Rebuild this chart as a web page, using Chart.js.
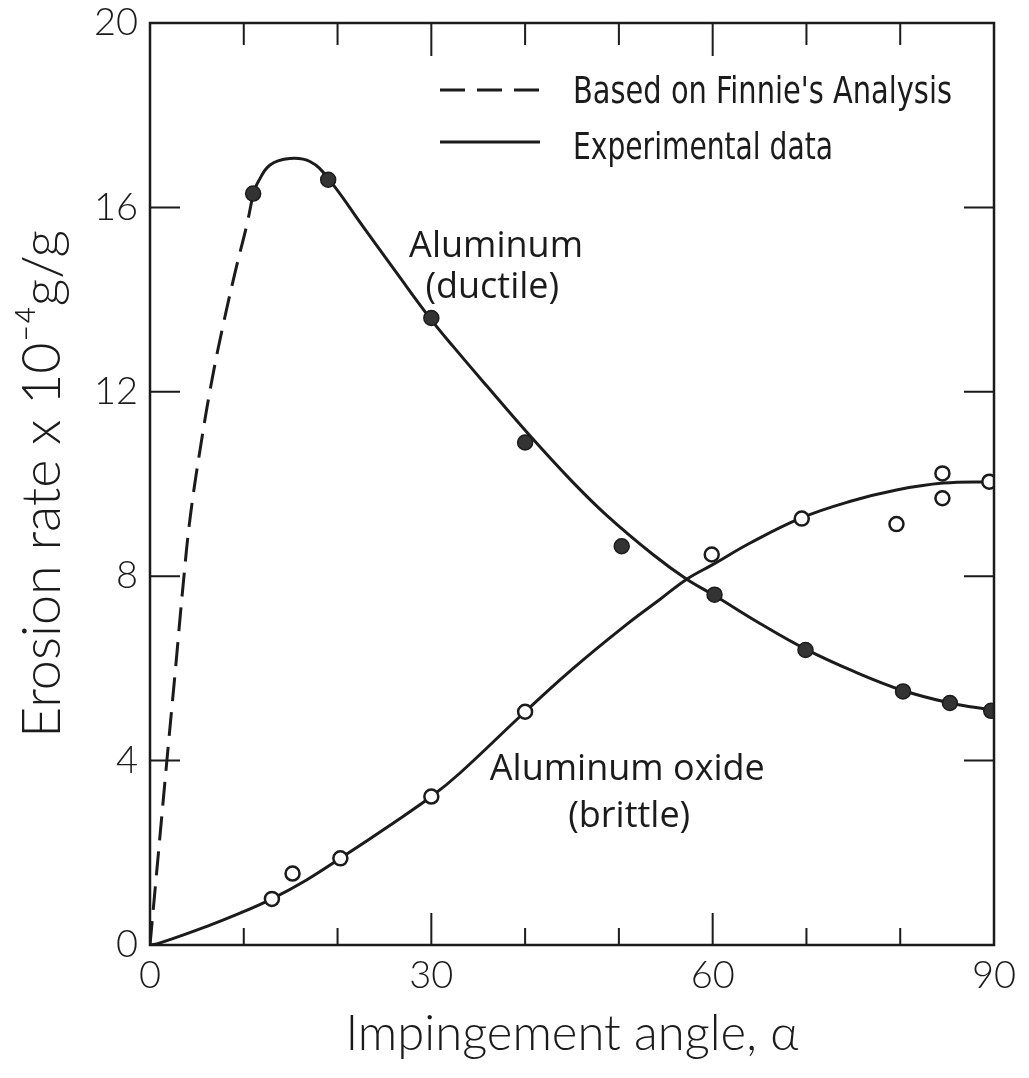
<!DOCTYPE html>
<html>
<head>
<meta charset="utf-8">
<script src="https://cdn.jsdelivr.net/npm/chart.js@4.4.1/dist/chart.umd.min.js"></script>
<style>
    html, body { margin: 0; padding: 0; background: #fff; }
    #contenedor { width: 1029px; height: 1078px; }
</style>
</head>
<body>
<div id="contenedor"><canvas id="graficaErosion" width="1029" height="1078"></canvas></div>
<script>
// Puntos experimentales - aluminio (ductil, circulos llenos)
var anguloAl = [11, 19, 30, 40, 50.3, 60.2, 69.9, 80.3, 85.3, 89.7];
var erosionAl = [16.3, 16.6, 13.6, 10.9, 8.65, 7.6, 6.4, 5.5, 5.25, 5.08];

// Puntos experimentales - oxido de aluminio (fragil, circulos abiertos)
var anguloOx = [13, 15.2, 20.3, 30, 40, 59.9, 69.5, 79.6, 84.5, 84.5, 89.5];
var erosionOx = [1.0, 1.55, 1.88, 3.22, 5.06, 8.47, 9.25, 9.13, 10.23, 9.69, 10.05];

// Curva experimental del aluminio
var curvaAlX = [11, 11.55, 12.8, 14.9, 17.1, 19, 22.7, 26.3, 29.85, 32.3, 35.9, 40.5, 44.8, 48.7, 53.7, 57.2, 60.2, 65, 69.8, 75, 80.3, 85.3, 89.7];
var curvaAlY = [16.3, 16.56, 16.92, 17.06, 16.99, 16.63, 15.59, 14.58, 13.6, 12.99, 12.13, 11.05, 10.1, 9.32, 8.46, 7.94, 7.58, 6.98, 6.43, 5.94, 5.52, 5.25, 5.1];

// Curva basada en el analisis de Finnie (discontinua)
var finnieX = [0, 0.9, 1.8, 2.7, 3.55, 4.3, 5.5, 6.6, 7.8, 9.2, 10.3, 11];
var finnieY = [0, 2.0, 4.0, 5.95, 7.85, 9.3, 10.95, 12.25, 13.45, 14.7, 15.6, 16.3];

// Curva experimental del oxido
var curvaOxX = [0, 1, 6, 9.6, 13, 16.7, 20.3, 25.6, 30, 33, 40, 45, 50.8, 54.4, 57.2, 60, 64, 69.4, 74.6, 79.6, 84.6, 89.7];
var curvaOxY = [0, 0.04, 0.4, 0.69, 1.0, 1.41, 1.88, 2.6, 3.22, 3.72, 5.06, 5.98, 6.95, 7.5, 7.93, 8.25, 8.72, 9.26, 9.62, 9.87, 10.02, 10.05];

// Etiquetas de los ejes
var ticksX = [0, 30, 60, 90];
var ticksY = [0, 4, 8, 12, 16, 20];

function pares(xs, ys) {
    var out = [];
    for (var i = 0; i < xs.length; i++) {
        out.push({ x: xs[i], y: ys[i] });
    }
    return out;
}

var negro = '#1b1b1b';
var fuenteEje = 'Lato';

// texto comprimido al ancho que tiene en la figura
function textoAncho(ctx, texto, x, y, ancho) {
    var m = ctx.measureText(texto).width;
    ctx.save();
    ctx.translate(x, y);
    ctx.scale(ancho / m, 1);
    ctx.fillText(texto, 0, 0);
    ctx.restore();
}

// Marco, marcas interiores, leyenda y rotulos
var pluginMarco = {
    id: 'marco',
    afterDraw: function (chart) {
        var ctx = chart.ctx;
        var a = chart.chartArea;
        var sx = chart.scales.x;
        var sy = chart.scales.y;
        ctx.save();
        ctx.strokeStyle = negro;
        ctx.lineWidth = 2.5;
        ctx.strokeRect(a.left, a.top, a.right - a.left, a.bottom - a.top);

        ctx.lineWidth = 2;
        ctx.beginPath();
        for (var v = 10; v < 90; v += 10) {
            var px = sx.getPixelForValue(v);
            var mayor = (v % 30 === 0);
            ctx.moveTo(px, a.bottom);
            ctx.lineTo(px, a.bottom - (mayor ? 32 : 17));
            ctx.moveTo(px, a.top);
            ctx.lineTo(px, a.top + (mayor ? 33 : 22));
        }
        for (var w = 4; w < 20; w += 4) {
            var py = sy.getPixelForValue(w);
            ctx.moveTo(a.left, py);
            ctx.lineTo(a.left + 30, py);
            ctx.moveTo(a.right, py);
            ctx.lineTo(a.right - 30, py);
        }
        ctx.stroke();

        // leyenda
        ctx.lineWidth = 3;
        ctx.setLineDash([25, 12]);
        ctx.beginPath();
        ctx.moveTo(440, 90);
        ctx.lineTo(539, 90);
        ctx.stroke();
        ctx.setLineDash([]);
        ctx.beginPath();
        ctx.moveTo(440, 142);
        ctx.lineTo(540, 142);
        ctx.stroke();

        ctx.fillStyle = negro;
        ctx.textBaseline = 'alphabetic';
        ctx.textAlign = 'left';
        ctx.font = '38px "Liberation Sans Narrow", "DejaVu Sans Condensed", "Liberation Sans", sans-serif';
        textoAncho(ctx, "Based on Finnie's Analysis", 573, 103, 379);
        textoAncho(ctx, 'Experimental data', 573, 159, 260);

        // rotulos de las curvas
        ctx.textAlign = 'center';
        ctx.font = '36px "Open Sans", sans-serif';
        var rotulos = [
            ['Aluminum', 36.9, 14.92],
            ['(ductile)', 36.5, 14.03],
            ['Aluminum oxide', 50.9, 3.58],
            ['(brittle)', 51.1, 2.56]
        ];
        rotulos.forEach(function (r) {
            ctx.fillText(r[0], sx.getPixelForValue(r[1]), sy.getPixelForValue(r[2]));
        });
        ctx.restore();
    }
};

var ctx = document.getElementById('graficaErosion').getContext('2d');

var graficaErosion = new Chart(ctx, {
    type: 'scatter',
    data: {
        datasets: [{
            label: 'Aluminum',
            data: pares(anguloAl, erosionAl),
            pointRadius: 7.5,
            pointBackgroundColor: '#333333',
            pointBorderColor: '#1b1b1b',
            pointBorderWidth: 1.5,
            showLine: false
        }, {
            label: 'Aluminum oxide',
            data: pares(anguloOx, erosionOx),
            pointRadius: 7,
            pointBackgroundColor: '#ffffff',
            pointBorderColor: '#1b1b1b',
            pointBorderWidth: 2.5,
            showLine: false
        }, {
            label: 'Experimental data',
            data: pares(curvaAlX, curvaAlY),
            showLine: true,
            borderColor: negro,
            borderWidth: 3,
            pointRadius: 0,
            tension: 0.4
        }, {
            label: "Based on Finnie's Analysis",
            data: pares(finnieX, finnieY),
            showLine: true,
            borderColor: negro,
            borderWidth: 3,
            borderDash: [24, 11],
            pointRadius: 0,
            tension: 0.4
        }, {
            label: 'Experimental data (oxide)',
            data: pares(curvaOxX, curvaOxY),
            showLine: true,
            borderColor: negro,
            borderWidth: 3,
            pointRadius: 0,
            tension: 0.4
        }]
    },
    options: {
        responsive: false,
        animation: false,
        devicePixelRatio: 1,
        layout: {
            padding: { top: 23, right: 35, left: 0, bottom: 0 }
        },
        plugins: {
            legend: { display: false },
            tooltip: { enabled: false }
        },
        scales: {
            x: {
                type: 'linear',
                min: 0,
                max: 90,
                afterBuildTicks: function (scale) {
                    scale.ticks = ticksX.map(function (v) { return { value: v }; });
                },
                afterFit: function (scale) { scale.height = 133; },
                grid: { drawOnChartArea: false, drawTicks: false },
                border: { display: false },
                ticks: {
                    autoSkip: false,
                    maxRotation: 0,
                    padding: 8,
                    color: negro,
                    font: { family: fuenteEje, size: 38, weight: '300' }
                },
                title: {
                    display: true,
                    text: 'Impingement angle, α',
                    color: negro,
                    font: { family: fuenteEje, size: 49, weight: '300' },
                    padding: { top: 0, bottom: 14 }
                }
            },
            y: {
                type: 'linear',
                min: 0,
                max: 20,
                afterBuildTicks: function (scale) {
                    scale.ticks = ticksY.map(function (v) { return { value: v }; });
                },
                afterFit: function (scale) {
                    scale.width = 150;
                    scale.paddingTop = 0;
                    scale.paddingBottom = 0;
                },
                grid: { drawOnChartArea: false, drawTicks: false },
                border: { display: false },
                ticks: {
                    padding: 12,
                    color: negro,
                    font: { family: fuenteEje, size: 38, weight: '300' }
                },
                title: {
                    display: true,
                    text: 'Erosion rate x 10⁻⁴g/g',
                    color: negro,
                    font: { family: fuenteEje, size: 54, weight: '300' },
                    padding: { top: 10, bottom: 0 }
                }
            }
        }
    },
    plugins: [pluginMarco]
});
</script>
</body>
</html>
